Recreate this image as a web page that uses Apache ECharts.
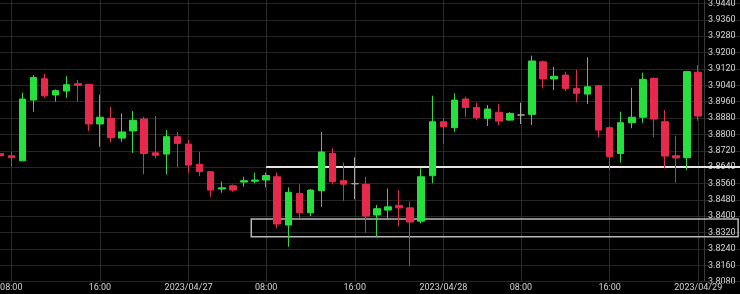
<!DOCTYPE html>
<html><head><meta charset="utf-8">
<script src="https://cdn.jsdelivr.net/npm/echarts@6/dist/echarts.min.js"></script>
<style>html,body{margin:0;padding:0;background:#000}#c{width:740px;height:294px}</style>
</head><body><div id="c"></div>
<script>
// ---- data ----
const categories = [
 '2023/04/26 07:00','2023/04/26 08:00','2023/04/26 09:00','2023/04/26 10:00','2023/04/26 11:00','2023/04/26 12:00',
 '2023/04/26 13:00','2023/04/26 14:00','2023/04/26 15:00','2023/04/26 16:00','2023/04/26 17:00','2023/04/26 18:00',
 '2023/04/26 19:00','2023/04/26 20:00','2023/04/26 21:00','2023/04/26 22:00','2023/04/26 23:00',
 '2023/04/27 00:00','2023/04/27 01:00','2023/04/27 02:00','2023/04/27 03:00','2023/04/27 04:00','2023/04/27 05:00',
 '2023/04/27 07:00','2023/04/27 08:00','2023/04/27 09:00','2023/04/27 10:00','2023/04/27 11:00','2023/04/27 12:00',
 '2023/04/27 13:00','2023/04/27 14:00','2023/04/27 15:00','2023/04/27 16:00','2023/04/27 17:00','2023/04/27 18:00',
 '2023/04/27 19:00','2023/04/27 20:00','2023/04/27 21:00','2023/04/27 22:00','2023/04/27 23:00',
 '2023/04/28 00:00','2023/04/28 01:00','2023/04/28 02:00','2023/04/28 03:00','2023/04/28 04:00','2023/04/28 05:00',
 '2023/04/28 07:00','2023/04/28 08:00','2023/04/28 09:00','2023/04/28 10:00','2023/04/28 11:00','2023/04/28 12:00',
 '2023/04/28 13:00','2023/04/28 14:00','2023/04/28 15:00','2023/04/28 16:00','2023/04/28 17:00','2023/04/28 18:00',
 '2023/04/28 19:00','2023/04/28 20:00','2023/04/28 21:00','2023/04/28 22:00','2023/04/28 23:00',
 '2023/04/29 00:00'
];
const opens = [
 3.8706,3.8696,3.8671,3.8968,3.9072,3.8993,3.9012,3.9048,3.9045,3.8851,3.8879,3.8782,3.8817,3.8875,3.8710,3.8704,3.8789,
 3.8753,3.8654,3.8618,3.8533,3.8549,3.8567,3.8571,3.8577,3.8593,3.8357,3.8512,3.8417,3.8525,3.8707,3.8574,3.8559,
 3.8556,3.8406,3.8430,3.8453,3.8441,3.8376,3.8598,
 3.8862,3.8833,3.8973,3.8932,3.8879,3.8908,3.8870,3.8895,3.8898,3.9155,3.9071,3.9090,3.9025,3.8997,3.9038,3.8833,
 3.8707,3.8857,3.8884,3.9074,3.8862,3.8696,3.8686,
 3.9104
];
const closes = [
 3.8696,3.8686,3.8973,3.9079,3.8989,3.9014,3.9043,3.9040,3.8851,3.8884,3.8784,3.8812,3.8869,3.8707,3.8698,3.8789,3.8756,
 3.8650,3.8618,3.8528,3.8539,3.8528,3.8574,3.8577,3.8599,3.8362,3.8517,3.8417,3.8528,3.8714,3.8569,3.8557,3.8559,
 3.8401,3.8437,3.8446,3.8441,3.8372,3.8593,3.8862,
 3.8838,3.8968,3.8932,3.8882,3.8924,3.8865,3.8903,3.8895,3.9159,3.9071,3.9084,3.9025,3.9001,3.9033,3.8821,3.8691,
 3.8857,3.8884,3.9069,3.8875,3.8694,3.8685,3.9107,
 3.8890
];
const lows = [
 3.8685,3.8642,3.8669,3.8911,3.8979,3.8960,3.8979,3.8960,3.8816,3.8740,3.8761,3.8764,3.8710,3.8605,3.8683,3.8605,3.8639,
 3.8613,3.8596,3.8495,3.8515,3.8520,3.8544,3.8561,3.8541,3.8341,3.8251,3.8390,3.8401,3.8446,3.8556,3.8476,3.8483,
 3.8319,3.8300,3.8381,3.8352,3.8156,3.8365,3.8561,
 3.8753,3.8813,3.8886,3.8870,3.8841,3.8846,3.8867,3.8851,3.8846,3.9025,3.9017,3.9012,3.8957,3.8949,3.8786,3.8629,
 3.8662,3.8830,3.8857,3.8786,3.8634,3.8564,3.8626,
 3.8867
];
const highs = [
 3.8724,3.8715,3.9004,3.9090,3.9095,3.9020,3.9084,3.9066,3.9046,3.8994,3.8935,3.8903,3.8914,3.8886,3.8890,3.8821,3.8812,
 3.8773,3.8715,3.8621,3.8569,3.8555,3.8593,3.8613,3.8613,3.8614,3.8541,3.8556,3.8533,3.8813,3.8732,3.8662,3.8688,
 3.8593,3.8455,3.8536,3.8528,3.8471,3.8634,3.8989,
 3.8879,3.9001,3.8984,3.8955,3.8944,3.8949,3.8909,3.8955,3.9185,3.9162,3.9131,3.9107,3.9115,3.9177,3.9040,3.8841,
 3.8911,3.9028,3.9102,3.9078,3.8919,3.8794,3.9111,
 3.9139
];
const priceMin = 3.8080, priceMax = 3.9440, priceStep = 0.0080;
const labelTimes = ['00:00', '08:00', '16:00'];
// drawn annotations (candle index, price)
const levelLine = { fromIndex: 24, price: 3.8640 };
const zoneBox = { fromIndex: 22.66, toIndex: 66.6, top: 3.8386, bottom: 3.8300 };

// ---- layout ----
const W = 740, H = 294;
const bandW = 11.08;
const gridLeft = 0.2 - bandW / 2;
const plotTop = 3.5, plotBottom = 281.7;
const pxPerUnit = (plotBottom - plotTop) / (priceMax - priceMin);
const extraBands = 4;
const nCandles = categories.length;
const fullRight = gridLeft + (nCandles + extraBands) * bandW;

const GREEN = '#26e03e', RED = '#e8294e', TXT = '#d4d4d4';

const isLabelIdx = (i, v) => labelTimes.indexOf(v.slice(11)) >= 0;

const chart = echarts.init(document.getElementById('c'), null, { renderer: 'canvas' });
chart.setOption({
  animation: false,
  backgroundColor: '#000',
  grid: [
    { left: gridLeft, right: W - fullRight, top: plotTop, bottom: H - plotBottom, outerBoundsMode: 'none', containLabel: false },
    { left: gridLeft, right: W - (gridLeft + nCandles * bandW), top: 0, bottom: H - plotBottom, outerBoundsMode: 'none', containLabel: false }
  ],
  xAxis: [
    { gridIndex: 0, type: 'value', min: -0.5, max: nCandles + extraBands - 0.5, show: false },
    {
      gridIndex: 1, type: 'category', data: categories, boundaryGap: true, z: 1.5,
      axisLine: { show: false }, axisTick: { show: false },
      splitLine: { show: true, interval: isLabelIdx, alignWithLabel: true, lineStyle: { color: '#2c2c2c', width: 1 } },
      axisLabel: {
        interval: isLabelIdx, color: TXT, fontSize: 9, fontFamily: 'Roboto', margin: 2, hideOverlap: false,
        formatter: v => v.slice(11) === '00:00' ? v.slice(0, 10) : v.slice(11)
      }
    }
  ],
  yAxis: [
    {
      gridIndex: 0, type: 'value', position: 'right', min: priceMin, max: priceMax, interval: priceStep, z: 0,
      axisLine: { show: false }, axisTick: { show: false },
      splitLine: { show: true, lineStyle: { color: '#262626', width: 1 } },
      axisLabel: { inside: true, align: 'left', margin: fullRight - 708,
        color: TXT, fontSize: 9, fontFamily: 'Roboto', formatter: v => v.toFixed(4) }
    },
    {
      gridIndex: 1, type: 'value', position: 'right', min: priceMin, max: priceMax + plotTop / pxPerUnit,
      axisLine: { show: true, lineStyle: { color: '#3a3a3a', width: 1 } },
      axisTick: { show: false }, axisLabel: { show: false }, splitLine: { show: false }
    }
  ],
  graphic: [
    { type: 'rect', z: 1, silent: true, shape: { x: 0, y: 283.5, width: W, height: H - 283.5 }, style: { fill: '#000' } }
  ],
  series: [
    {
      type: 'line', xAxisIndex: 0, yAxisIndex: 0, data: [], silent: true, z: 1.8,
      markLine: {
        z: 1.8, silent: true, symbol: ['none', 'none'], label: { show: false },
        lineStyle: { color: '#e6e6e6', width: 2, type: 'solid' },
        data: [[{ coord: [levelLine.fromIndex, levelLine.price] }, { coord: [nCandles + extraBands - 0.5, levelLine.price] }]]
      },
      markArea: {
        z: 1.8, silent: true, label: { show: false },
        itemStyle: { color: 'rgba(0,0,0,0)', borderColor: '#b8b8b8', borderWidth: 1.5 },
        data: [[{ coord: [zoneBox.fromIndex, zoneBox.top] }, { coord: [zoneBox.toIndex, zoneBox.bottom] }]]
      }
    },
    {
      type: 'candlestick', xAxisIndex: 1, yAxisIndex: 1, z: 10, barWidth: 7,
      itemStyle: { color: GREEN, color0: RED, borderColor: GREEN, borderColor0: RED, borderColorDoji: '#a8a8a8', borderWidth: 1 },
      data: categories.map((c, i) => [opens[i], closes[i], lows[i], highs[i]])
    }
  ]
});
</script></body></html>
